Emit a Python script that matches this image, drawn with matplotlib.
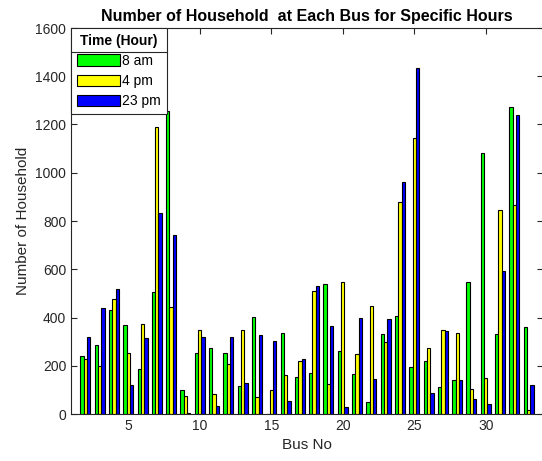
import numpy as np
import matplotlib
matplotlib.use("Agg")
import matplotlib.pyplot as plt
from matplotlib.lines import Line2D

plt.rcParams['font.family'] = ['Liberation Sans', 'DejaVu Sans']

bus = list(range(2, 34))
am8 = [240, 285, 433, 370, 188, 506, 1255, 100, 254, 274, 254, 114, 403, 0, 334, 154,
       172, 539, 263, 164, 48, 333, 407, 195, 221, 110, 139, 549, 1082, 330, 1273, 362]
pm4 = [230, 200, 477, 252, 375, 1191, 444, 74, 349, 84, 209, 349, 69, 98, 162, 220,
       510, 124, 549, 248, 447, 300, 877, 1143, 272, 348, 337, 103, 151, 846, 865, 16]
pm23 = [320, 441, 520, 122, 316, 835, 742, 5, 318, 33, 318, 128, 326, 301, 55, 230,
        529, 363, 27, 397, 147, 393, 961, 1434, 85, 344, 143, 62, 41, 594, 1240, 122]
labels = ["8 am", "4 pm", "23 pm"]
colors = ["#00ff00", "#ffff00", "#0000ff"]

fig = plt.figure(figsize=(5.42, 4.61), dpi=100)
ax = fig.add_axes([71 / 542, 47 / 461, 472 / 542, 386 / 461])

x = np.array(bus)
w = 0.233
for i, vals in enumerate([am8, pm4, pm23]):
    ax.bar(x + (i - 1) * w, vals, w, color=colors[i], edgecolor="black",
           linewidth=0.8, label=labels[i], zorder=2)

ax.set_xlim(1, 34)
ax.set_ylim(0, 1600)
ax.set_xticks([5, 10, 15, 20, 25, 30])
ax.set_yticks(range(0, 1601, 200))
ax.tick_params(direction="in", length=4, width=0.8, top=True, right=True,
               labelsize=10, colors="#262626", zorder=5)
for s in ax.spines.values():
    s.set_color("#262626")
    s.set_linewidth(0.8)
    s.set_zorder(5)

ax.set_title("Number of Household  at Each Bus for Specific Hours",
             fontsize=11.5, fontweight="bold", pad=5)
ax.set_xlabel("Bus No", fontsize=11, color="#262626")
ax.set_ylabel("Number of Household", fontsize=11, color="#262626")

leg = ax.legend(loc="upper left", title="Time (Hour)", fontsize=10,
                title_fontproperties={"weight": "bold", "size": 10},
                fancybox=False, edgecolor="#262626", framealpha=1,
                borderaxespad=0.0, handlelength=3.1, handleheight=0.9,
                labelspacing=0.45, handletextpad=0.2, borderpad=0.4)
leg.get_frame().set_linewidth(0.8)
leg.set_zorder(10)

# separator under the legend title
fig.canvas.draw()
r = fig.canvas.get_renderer()
lb = leg.get_window_extent(r)
tb = leg.get_title().get_window_extent(r)
yline = tb.y0 - 4
inv = fig.transFigure.inverted()
(x0, y0), (x1, _) = inv.transform([(lb.x0, yline), (lb.x1, yline)])
fig.add_artist(Line2D([x0, x1], [y0, y0], color="#262626", lw=0.8, zorder=11))

fig.savefig("out.png", dpi=100)
